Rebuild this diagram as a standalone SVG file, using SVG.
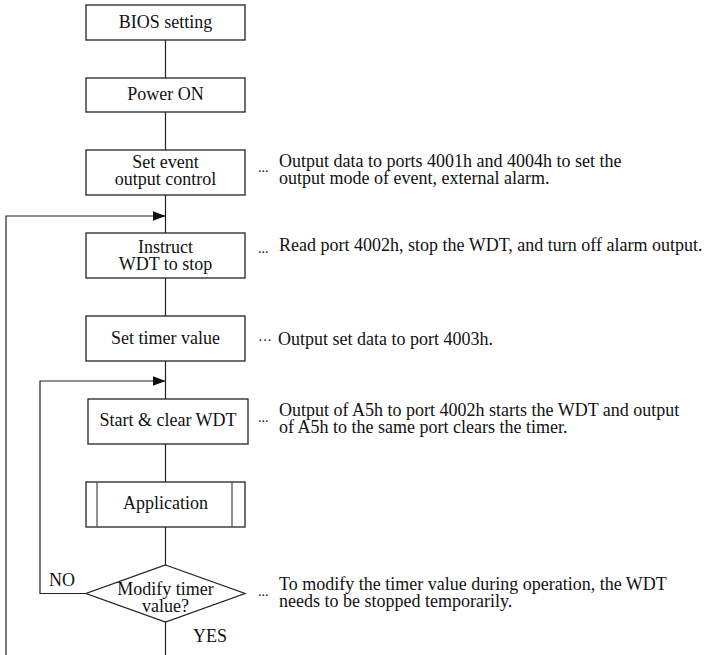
<svg xmlns="http://www.w3.org/2000/svg" width="714" height="655" viewBox="0 0 714 655">
<style>
  .box { fill: #ffffff; stroke: #222; stroke-width: 1.3; }
  .inner { stroke: #555; stroke-width: 1.3; fill: none; }
  .conn { stroke: #222; stroke-width: 1.2; fill: none; }
  text { font-family: "Liberation Serif", "Times New Roman", serif; fill: #111; }
  .lbl { font-size: 18px; text-anchor: middle; }
  .note { font-size: 18px; }
  .dots { font-size: 14px; }
</style>
<defs>
  <marker id="arr" markerUnits="userSpaceOnUse" markerWidth="14" markerHeight="11" refX="13" refY="5" orient="auto">
    <path d="M0,0 L13,5 L0,10 z" fill="#111"/>
  </marker>
</defs>
<rect width="714" height="655" fill="#ffffff"/>

<g id="connectors">
  <line class="conn" x1="165.5" y1="40" x2="165.5" y2="78"/>
  <line class="conn" x1="165.5" y1="112" x2="165.5" y2="150"/>
  <line class="conn" x1="165.5" y1="195" x2="165.5" y2="233"/>
  <line class="conn" x1="165.5" y1="278" x2="165.5" y2="316"/>
  <line class="conn" x1="165.5" y1="361" x2="165.5" y2="399"/>
  <line class="conn" x1="165.5" y1="444" x2="165.5" y2="482"/>
  <line class="conn" x1="165.5" y1="527" x2="165.5" y2="565"/>
  <line class="conn" x1="165.5" y1="622" x2="165.5" y2="655"/>
  <polyline class="conn" points="6,655 6,216 165.5,216" marker-end="url(#arr)"/>
  <polyline class="conn" points="86,593.5 40,593.5 40,381 165.5,381" marker-end="url(#arr)"/>
  <text x="49" y="586" class="note">NO</text>
  <text x="193" y="642" class="note">YES</text>
</g>

<g id="bios">
  <rect class="box" x="86" y="5" width="159" height="35"/>
  <text class="lbl" x="165.5" y="27.5">BIOS setting</text>
</g>
<g id="power">
  <rect class="box" x="86" y="78" width="159" height="34"/>
  <text class="lbl" x="165.5" y="100">Power ON</text>
</g>
<g id="setevent">
  <rect class="box" x="86" y="150" width="159" height="45"/>
  <text class="lbl" x="165.5" y="167.5">Set event</text>
  <text class="lbl" x="165.5" y="184.5">output control</text>
  <text class="dots" x="258" y="172">...</text>
  <text class="note" x="279" y="167">Output data to ports 4001h and 4004h to set the</text>
  <text class="note" x="279" y="184">output mode of event, external alarm.</text>
</g>
<g id="instruct">
  <rect class="box" x="86" y="233" width="159" height="45"/>
  <text class="lbl" x="165.5" y="252.5">Instruct</text>
  <text class="lbl" x="165.5" y="269.5">WDT to stop</text>
  <text class="dots" x="258" y="253">...</text>
  <text class="note" x="279" y="251">Read port 4002h, stop the WDT, and turn off alarm output.</text>
</g>
<g id="settimer">
  <rect class="box" x="86" y="316" width="159" height="45"/>
  <text class="lbl" x="165.5" y="344">Set timer value</text>
  <text class="dots" x="258" y="345">···</text>
  <text class="note" x="278" y="345">Output set data to port 4003h.</text>
</g>
<g id="startclear">
  <rect class="box" x="88" y="399" width="160" height="45"/>
  <text class="lbl" x="168" y="426">Start &amp; clear WDT</text>
  <text class="dots" x="258" y="422">...</text>
  <text class="note" x="279" y="416">Output of A5h to port 4002h starts the WDT and output</text>
  <text class="note" x="279" y="433">of A5h to the same port clears the timer.</text>
</g>
<g id="application">
  <rect class="box" x="86" y="482" width="159" height="45"/>
  <line class="inner" x1="97" y1="482" x2="97" y2="527"/>
  <line class="inner" x1="232" y1="482" x2="232" y2="527"/>
  <text class="lbl" x="165.5" y="509">Application</text>
</g>
<g id="modify">
  <polygon class="box" points="165.5,565 245,593.5 165.5,622 86,593.5"/>
  <text class="lbl" x="165.5" y="594.5">Modify timer</text>
  <text class="lbl" x="165.5" y="611.5">value?</text>
  <text class="dots" x="258" y="596">...</text>
  <text class="note" x="279" y="590">To modify the timer value during operation, the WDT</text>
  <text class="note" x="279" y="607">needs to be stopped temporarily.</text>
</g>
</svg>
